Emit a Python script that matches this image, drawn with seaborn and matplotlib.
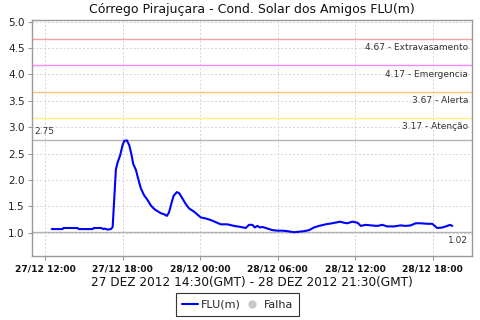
import matplotlib
matplotlib.use("Agg")
import matplotlib.pyplot as plt
import matplotlib.dates as mdates
from matplotlib.lines import Line2D
import matplotlib.transforms as mtrans
import numpy as np
import pandas as pd
import seaborn as sns

# ---- data ----
times = [
    "2012-12-27 12:30", "2012-12-27 12:55", "2012-12-27 13:20", "2012-12-27 13:25",
    "2012-12-27 14:30", "2012-12-27 14:35", "2012-12-27 15:40", "2012-12-27 15:45",
    "2012-12-27 16:20", "2012-12-27 16:30", "2012-12-27 16:35", "2012-12-27 16:50",
    "2012-12-27 17:05", "2012-12-27 17:13", "2012-12-27 17:28", "2012-12-27 17:36",
    "2012-12-27 17:48", "2012-12-27 17:59", "2012-12-27 18:07", "2012-12-27 18:19",
    "2012-12-27 18:30", "2012-12-27 18:41", "2012-12-27 18:48", "2012-12-27 19:01",
    "2012-12-27 19:11", "2012-12-27 19:24", "2012-12-27 19:39", "2012-12-27 19:55",
    "2012-12-27 20:10", "2012-12-27 20:26", "2012-12-27 20:41", "2012-12-27 20:57",
    "2012-12-27 21:12", "2012-12-27 21:25", "2012-12-27 21:35", "2012-12-27 21:46",
    "2012-12-27 21:56", "2012-12-27 22:11", "2012-12-27 22:22", "2012-12-27 22:37",
    "2012-12-27 22:53", "2012-12-27 23:08", "2012-12-27 23:31", "2012-12-28 00:02",
    "2012-12-28 00:26", "2012-12-28 00:49", "2012-12-28 01:12", "2012-12-28 01:35",
    "2012-12-28 02:06", "2012-12-28 02:37", "2012-12-28 03:08", "2012-12-28 03:31",
    "2012-12-28 03:46", "2012-12-28 04:02", "2012-12-28 04:13", "2012-12-28 04:25",
    "2012-12-28 04:37", "2012-12-28 04:49", "2012-12-28 05:12", "2012-12-28 05:35",
    "2012-12-28 05:58", "2012-12-28 06:21", "2012-12-28 06:45", "2012-12-28 07:15",
    "2012-12-28 07:38", "2012-12-28 08:02", "2012-12-28 08:25", "2012-12-28 08:48",
    "2012-12-28 09:11", "2012-12-28 09:42", "2012-12-28 10:13", "2012-12-28 10:49",
    "2012-12-28 11:07", "2012-12-28 11:23", "2012-12-28 11:46", "2012-12-28 12:10",
    "2012-12-28 12:25", "2012-12-28 12:48", "2012-12-28 13:11", "2012-12-28 13:42",
    "2012-12-28 14:05", "2012-12-28 14:28", "2012-12-28 14:59", "2012-12-28 15:30",
    "2012-12-28 15:53", "2012-12-28 16:17", "2012-12-28 16:40", "2012-12-28 17:03",
    "2012-12-28 17:34", "2012-12-28 17:57", "2012-12-28 18:20", "2012-12-28 18:44",
    "2012-12-28 19:07", "2012-12-28 19:19", "2012-12-28 19:30",
]
flu = [
    1.07, 1.07, 1.07, 1.09,
    1.09, 1.07, 1.07, 1.09,
    1.09, 1.07, 1.08, 1.06,
    1.07, 1.11, 2.20, 2.33,
    2.47, 2.66, 2.74, 2.75,
    2.66, 2.47, 2.31, 2.19,
    2.03, 1.84, 1.71, 1.62,
    1.52, 1.45, 1.41, 1.37,
    1.35, 1.32, 1.39, 1.56,
    1.70, 1.77, 1.75, 1.65,
    1.54, 1.46, 1.40, 1.29,
    1.27, 1.24, 1.20, 1.16,
    1.16, 1.13, 1.11, 1.09,
    1.15, 1.15, 1.10, 1.13,
    1.10, 1.11, 1.08, 1.05,
    1.04, 1.04, 1.03, 1.01,
    1.02, 1.03, 1.05, 1.10,
    1.13, 1.16, 1.18, 1.21,
    1.19, 1.18, 1.21, 1.19,
    1.13, 1.15, 1.14, 1.13,
    1.15, 1.12, 1.12, 1.14,
    1.13, 1.14, 1.18, 1.18,
    1.17, 1.17, 1.09, 1.10,
    1.13, 1.15, 1.13,
]

threshold_values = [4.67, 4.17, 3.67, 3.17]
threshold_names = ["Extravasamento", "Emergencia", "Alerta", "Atenção"]
threshold_colors = ["#F4A0A0", "#FF88FF", "#FFC27A", "#FFF07A"]
max_value = 2.75
min_value = 1.02

title = "Córrego Pirajuçara - Cond. Solar dos Amigos FLU(m)"
xlabel = "27 DEZ 2012 14:30(GMT) - 28 DEZ 2012 21:30(GMT)"
series_name = "FLU(m)"
fail_name = "Falha"

df = pd.DataFrame({"time": pd.to_datetime(times), "flu": flu})

# ---- plotting ----
sns.set_theme(style="white")
plt.rcParams["font.family"] = ["DejaVu Sans"]

fig = plt.figure(figsize=(4.8, 3.2), dpi=100)
ax = fig.add_axes([0.066, 0.2, 0.918, 0.7375])

sns.lineplot(data=df, x="time", y="flu", ax=ax, color="#0000FF", linewidth=1.5)

ax.set_ylim(0.56, 5.03)
t0, t1 = df["time"].min(), df["time"].max()
span = t1 - t0
ax.set_xlim(t0 - span * 0.05, t1 + span * 0.05)

ax.yaxis.set_major_locator(matplotlib.ticker.FixedLocator(np.arange(1.0, 5.01, 0.5)))
ax.yaxis.set_major_formatter(matplotlib.ticker.FormatStrFormatter("%.1f"))
ax.xaxis.set_major_locator(mdates.HourLocator(byhour=[0, 6, 12, 18]))
ax.xaxis.set_major_formatter(mdates.DateFormatter("%d/%m %H:%M"))

ax.grid(True, color="#D4D4D4", linestyle=(0, (2, 2)), linewidth=0.7)
ax.set_axisbelow(True)
for s in ax.spines.values():
    s.set_color("#999999")
    s.set_linewidth(1.0)
ax.tick_params(axis="both", which="major", length=3, width=0.8, color="#999999",
               direction="out", bottom=True, left=True)
ax.tick_params(axis="y", labelsize=7.5, pad=2, labelcolor="#222222")
ax.tick_params(axis="x", labelsize=6.6, pad=3, labelcolor="#111111")
for lbl in ax.get_xticklabels():
    lbl.set_fontweight("bold")

ax.set_xlabel(xlabel, fontsize=8.7, labelpad=2, color="#111111")
ax.set_ylabel("")
ax.set_title(title, fontsize=9, pad=5, color="#111111")

blend = mtrans.blended_transform_factory(ax.transAxes, ax.transData)
for v, n, c in zip(threshold_values, threshold_names, threshold_colors):
    ax.axhline(v, color=c, linewidth=1.0, zorder=1.5)
    ax.annotate(f"{v:.2f} - {n}", xy=(0.99, v), xycoords=blend,
                xytext=(0, -3), textcoords="offset points",
                ha="right", va="top", fontsize=6.5, color="#333333")

ax.axhline(max_value, color="#B4B4B4", linewidth=1.0, zorder=1.5)
ax.annotate(f"{max_value:.2f}", xy=(0.007, max_value), xycoords=blend,
            xytext=(0, 3), textcoords="offset points",
            ha="left", va="bottom", fontsize=6.5, color="#333333")
ax.axhline(min_value, color="#B4B4B4", linewidth=1.0, zorder=1.5)
ax.annotate(f"{min_value:.2f}", xy=(0.99, min_value), xycoords=blend,
            xytext=(0, -3), textcoords="offset points",
            ha="right", va="top", fontsize=6.5, color="#333333")

handles = [Line2D([], [], color="#0000FF", linewidth=1.5),
           Line2D([], [], color="#C8C8C8", marker="o", linestyle="None", markersize=5)]
leg = fig.legend(handles, [series_name, fail_name], loc="lower center",
                 bbox_to_anchor=(0.495, 0.005), ncol=2, fontsize=8,
                 frameon=True, fancybox=False, edgecolor="black",
                 handlelength=1.4, handletextpad=0.3, columnspacing=0.3,
                 borderpad=0.6, borderaxespad=0.2)
leg.get_frame().set_linewidth(0.8)

fig.savefig("out.png", dpi=100)
